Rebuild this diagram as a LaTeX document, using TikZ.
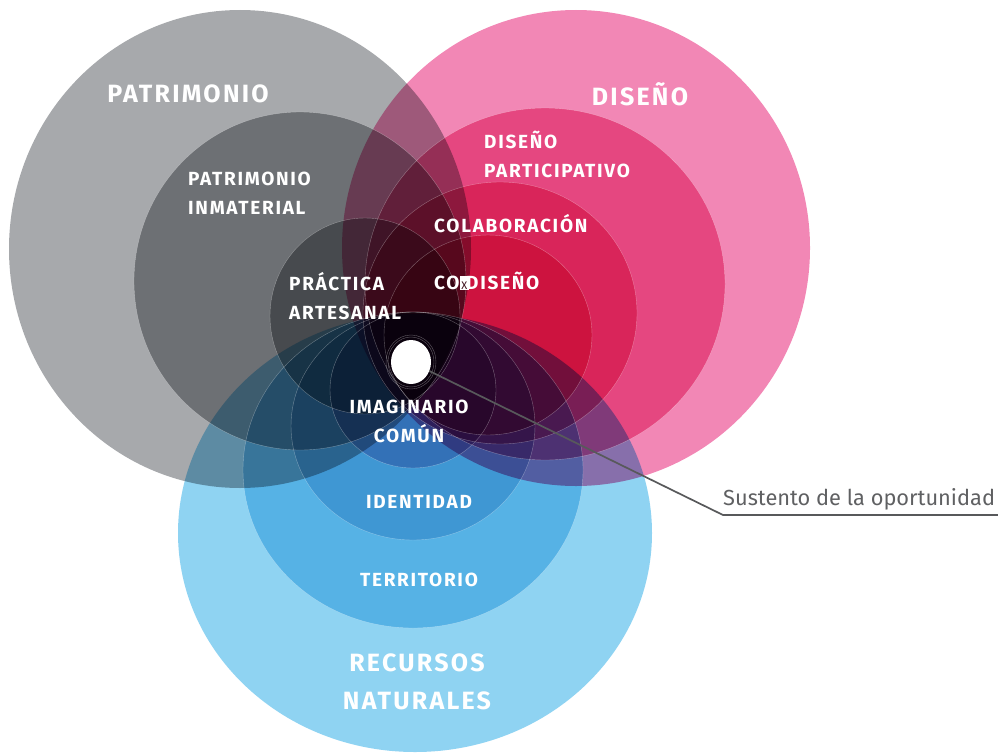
\documentclass[tikz,border=0pt]{standalone}
\usepackage{fontspec}
\setmainfont{Fira Sans}
\newfontfamily\rotulo[LetterSpace=9]{Fira Sans}
\usetikzlibrary{shapes.geometric}
\definecolor{grisP}{RGB}{167,169,172}
\definecolor{rosaD}{RGB}{242,135,181}
\definecolor{azulR}{RGB}{143,211,242}
\definecolor{azulT}{RGB}{155,216,242}
\definecolor{azulI}{RGB}{188,217,236}
\definecolor{azulC}{RGB}{207,191,222}
\definecolor{lineaS}{RGB}{88,89,91}
\definecolor{textoS}{RGB}{95,96,98}
\definecolor{tofuX}{RGB}{60,15,25}
\newcommand{\tofu}{\rlap{\textcolor{white}{\rule{0.5em}{0.72em}}}\makebox[0.5em]{\textcolor{tofuX}{\mdseries\fontsize{11}{11}\selectfont X}}\hspace{-0.15em}}

\begin{document}
\begin{tikzpicture}[x=1pt, y=-1pt,
    aro/.style={draw=white, draw opacity=.35, line width=.4pt},
    grande/.style={text=white, inner sep=0, font=\rotulo\bfseries\fontsize{25}{37.5}\selectfont, align=center},
    medio/.style={text=white, inner sep=0, font=\rotulo\bfseries\fontsize{19}{29}\selectfont, align=left}]
    \useasboundingbox (0,0) rectangle (998,752);
    \begin{scope}[blend group=multiply]
        \fill[grisP] (240,249) ellipse [x radius=231, y radius=239];
        \fill[grisP] (300,281) ellipse [x radius=166, y radius=169];
        \fill[grisP] (365,316) ellipse [x radius=95, y radius=98];
        \fill[rosaD] (576,248) ellipse [x radius=234, y radius=238];
        \fill[rosaD] (545,284) ellipse [x radius=180, y radius=176];
        \fill[rosaD] (500,313) ellipse [x radius=137, y radius=131];
        \fill[rosaD] (488,335) ellipse [x radius=104, y radius=100];
        \fill[azulR] (415,533) ellipse [x radius=237, y radius=219];
        \fill[azulT] (413,470) ellipse [x radius=170, y radius=158];
        \fill[azulI] (413,426) ellipse [x radius=122, y radius=114];
        \fill[azulC] (413,390) ellipse [x radius=83, y radius=78];
    \end{scope}
    \draw[aro] (300,281) ellipse [x radius=166, y radius=169];
    \draw[aro] (365,316) ellipse [x radius=95, y radius=98];
    \draw[aro] (545,284) ellipse [x radius=180, y radius=176];
    \draw[aro] (500,313) ellipse [x radius=137, y radius=131];
    \draw[aro] (488,335) ellipse [x radius=104, y radius=100];
    \draw[aro] (413,470) ellipse [x radius=170, y radius=158];
    \draw[aro] (413,426) ellipse [x radius=122, y radius=114];
    \draw[aro] (413,390) ellipse [x radius=83, y radius=78];
    \draw[aro] (411,362) ellipse [x radius=23, y radius=25];
    \draw[aro] (411,362) ellipse [x radius=25, y radius=27];

    \node[ellipse, fill=white, minimum width=40, minimum height=44, inner sep=0] (dot) at (411,362) {};
    \coordinate (codo) at (723,515);
    \coordinate (fin) at (998,515);
    \draw[lineaS, line width=1.7pt] (dot) -- (codo) -- (fin);
    \node[anchor=base west, inner sep=0, text=textoS, font=\fontsize{21.8}{21.8}\selectfont] (sustento) at (723,505) {Sustento de la oportunidad};

    \node[grande] (patrimonio) at (188,94) {PATRIMONIO};
    \node[grande] (diseno) at (640,94) {DISEÑO};
    \node[grande] (recursos) at (417,682) {RECURSOS\\NATURALES};
    \node[medio, anchor=west] (inmaterial) at (188,193) {PATRIMONIO\\INMATERIAL};
    \node[medio, anchor=west] (participativo) at (484,154) {DISEÑO\\PARTICIPATIVO};
    \node[medio, anchor=west] (artesanal) at (289,296) {PRÁCTICA\\ARTESANAL};
    \node[medio, anchor=west] (colaboracion) at (434,224) {COLABORACIÓN};
    \node[medio, anchor=west] (codiseno) at (434,281) {CO\tofu DISEÑO};
    \node[medio, align=center] (imaginario) at (409,421) {IMAGINARIO\\COMÚN};
    \node[medio] (identidad) at (419,502) {IDENTIDAD};
    \node[medio] (territorio) at (419,580) {TERRITORIO};
\end{tikzpicture}
\end{document}
